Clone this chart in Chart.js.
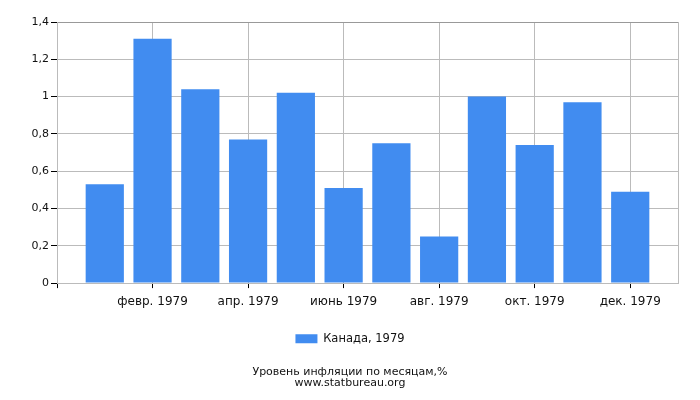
<!DOCTYPE html>
<html>
<head>
<meta charset="utf-8">
<script src="https://cdn.jsdelivr.net/npm/chart.js@4/dist/chart.umd.min.js"></script>
<style>
  html, body { margin: 0; padding: 0; background: #fff; }
  #wrap { width: 700px; height: 400px; position: relative; }
</style>
</head>
<body>
<div id="wrap"><canvas id="c"></canvas></div>
<script>
const months = ['янв. 1979','февр. 1979','март 1979','апр. 1979','май 1979','июнь 1979','июль 1979','авг. 1979','сент. 1979','окт. 1979','нояб. 1979','дек. 1979'];
const values = [0.53, 1.31, 1.04, 0.77, 1.02, 0.51, 0.75, 0.25, 1.00, 0.74, 0.97, 0.49];
const seriesName = 'Канада, 1979';
const titleLines = ['Уровень инфляции по месяцам,%', 'www.statbureau.org'];
const xTickPositions = [0, 2, 4, 6, 8, 10, 12, 13];

const FONT = 'DejaVu Sans';
const fmt = v => String(Math.round(v * 10) / 10).replace('.', ',');

new Chart(document.getElementById('c'), {
  type: 'bar',
  data: {
    datasets: [{
      label: seriesName,
      data: months.map((m, i) => ({ x: i + 1, y: values[i] })),
      backgroundColor: '#418cf0',
      borderWidth: 0,
      categoryPercentage: 1,
      barPercentage: 0.8
    }]
  },
  options: {
    responsive: true,
    maintainAspectRatio: false,
    animation: false,
    layout: { padding: { top: 22, right: 0, bottom: 0, left: 0 } },
    scales: {
      x: {
        type: 'linear',
        min: 0,
        max: 13,
        offset: false,
        afterBuildTicks: s => { s.ticks = xTickPositions.map(v => ({ value: v })); },
        afterFit: s => { s.height = 40; },
        ticks: {
          autoSkip: false,
          maxRotation: 0,
          padding: 7,
          color: '#111',
          font: { family: FONT, size: 12 },
          callback: v => (v >= 1 && v <= 12 ? months[v - 1] : '')
        },
        grid: {
          offset: false,
          color: '#bbb',
          tickLength: 5,
          tickColor: c => (c.tick && c.tick.value === 13 ? 'rgba(0,0,0,0)' : '#000')
        },
        border: { color: '#bbb' }
      },
      y: {
        min: 0,
        max: 1.4,
        afterFit: s => { s.width = 57; },
        ticks: {
          stepSize: 0.2,
          padding: 2,
          color: '#111',
          font: { family: FONT, size: 11 },
          callback: v => fmt(v)
        },
        grid: {
          color: c => (c.tick && Math.abs(c.tick.value - 1.4) < 1e-6 ? '#999' : '#bbb'),
          tickLength: 6,
          tickColor: '#000'
        },
        border: { color: '#bbb' }
      },
      yRight: {
        position: 'right',
        display: true,
        afterFit: s => { s.width = 22; },
        ticks: { display: false },
        grid: { display: false },
        border: { display: false }
      }
    },
    plugins: {
      legend: {
        position: 'bottom',
        labels: {
          boxWidth: 22,
          boxHeight: 9,
          padding: 10,
          color: '#111',
          font: { family: FONT, size: 11.5 }
        }
      },
      title: {
        display: true,
        position: 'bottom',
        text: titleLines,
        color: '#111',
        font: { family: FONT, size: 11, weight: 'normal', lineHeight: 0.95 },
        padding: { top: 12.5, bottom: 12 }
      },
      tooltip: { enabled: false }
    }
  }
});
</script>
</body>
</html>
